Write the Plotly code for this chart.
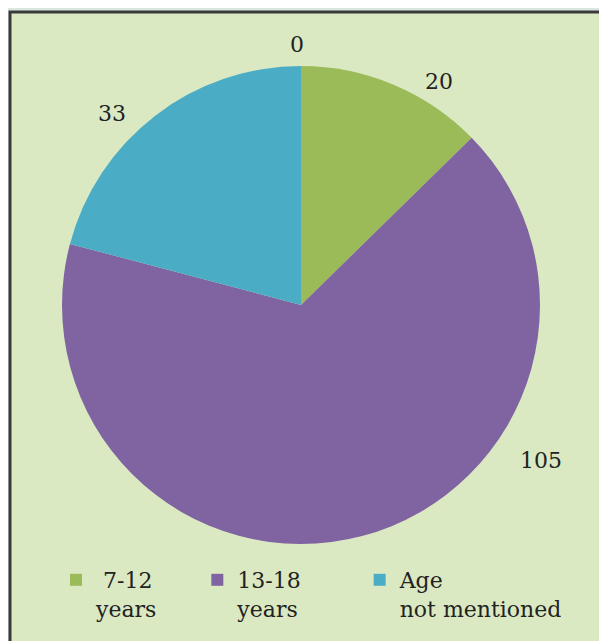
import plotly.graph_objects as go

NB = '\u00a0'

# data
labels = ['', NB + '7-12<br>years', '13-18<br>years', 'Age<br>not mentioned']
values = [0, 20, 105, 33]
value_text = ['0', '20', '105', '33']
colors = ['#f79646', '#9bbb59', '#8064a2', '#4bacc6']

# label placement in screen pixels (Excel "best fit" positions)
label_xy = [(297, 44), (439, 81), (541, 461), (112, 113)]
# trailing padding (in non-breaking spaces) to space the legend entries apart
legend_pad = [0, 5, 8, 0]

# the page body has an 8px margin, so the figure is drawn 8px in from the window edge
OFF = 8
W, H = 607 - OFF, 641 - OFF
FONT = 'DejaVu Serif'


def px_x(sx):
    return (sx - OFF) / W


def px_y(sy):
    return 1 - (sy - OFF) / H


# the zero slice draws nothing and has no legend entry in the reference
keep = [i for i, v in enumerate(values) if v > 0]

fig = go.Figure()

fig.add_trace(go.Pie(
    labels=[labels[i] + NB * legend_pad[i] for i in keep],
    values=[values[i] for i in keep],
    sort=False,
    direction='clockwise',
    rotation=0,
    textinfo='none',
    hoverinfo='label+value',
    marker=dict(colors=[colors[i] for i in keep], line=dict(width=0)),
    domain=dict(x=[px_x(62), px_x(540)], y=[px_y(544), px_y(66)]),
    showlegend=True
))

for txt, (x, y) in zip(value_text, label_xy):
    fig.add_annotation(
        x=px_x(x), y=px_y(y), xref='paper', yref='paper',
        xanchor='center', yanchor='middle',
        text=txt, showarrow=False,
        font=dict(family=FONT, size=22, color='#222222')
    )

# framed panel
fig.add_shape(
    type='rect', xref='paper', yref='paper',
    x0=px_x(10), x1=1.05, y0=-0.05, y1=px_y(12),
    line=dict(color='#3a3a3a', width=3),
    fillcolor='#dbe9c2',
    layer='below'
)

fig.update_layout(
    width=W,
    height=H,
    margin=dict(l=0, r=0, t=0, b=0),
    paper_bgcolor='#d9e7e0',
    plot_bgcolor='rgba(0,0,0,0)',
    font=dict(family=FONT, size=22, color='#222222'),
    legend=dict(
        orientation='h',
        x=px_x(56), y=px_y(559),
        xanchor='left', yanchor='top',
        valign='top',
        bgcolor='rgba(0,0,0,0)',
        font=dict(family=FONT, size=22, color='#222222'),
        traceorder='normal'
    )
)

fig.write_html('out.html')
